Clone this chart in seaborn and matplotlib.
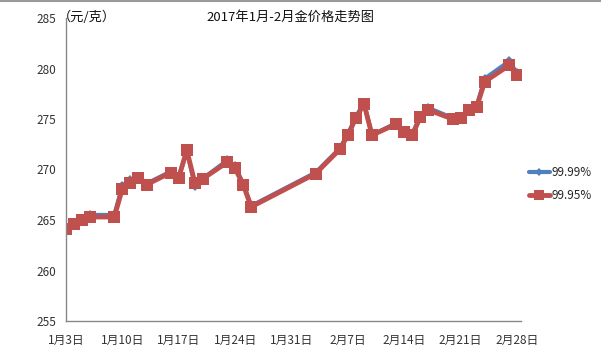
import matplotlib
matplotlib.use("Agg")
import matplotlib.pyplot as plt
import matplotlib.dates as mdates
from matplotlib.lines import Line2D
import seaborn as sns
import pandas as pd

dates = ["2017-01-03", "2017-01-04", "2017-01-05", "2017-01-06",
         "2017-01-09", "2017-01-10", "2017-01-11", "2017-01-12", "2017-01-13",
         "2017-01-16", "2017-01-17", "2017-01-18", "2017-01-19", "2017-01-20",
         "2017-01-23", "2017-01-24", "2017-01-25", "2017-01-26",
         "2017-02-03",
         "2017-02-06", "2017-02-07", "2017-02-08", "2017-02-09", "2017-02-10",
         "2017-02-13", "2017-02-14", "2017-02-15", "2017-02-16", "2017-02-17",
         "2017-02-20", "2017-02-21", "2017-02-22", "2017-02-23", "2017-02-24",
         "2017-02-27", "2017-02-28"]

au9995 = [264.1, 264.6, 265.0, 265.3, 265.3, 268.1, 268.7, 269.2, 268.5,
          269.7, 269.2, 271.9, 268.7, 269.1, 270.7, 270.1, 268.5, 266.3,
          269.6, 272.0, 273.4, 275.1, 276.5, 273.4, 274.5, 273.7, 273.4,
          275.2, 275.9, 275.0, 275.1, 275.9, 276.2, 278.7, 280.3, 279.4]

au9999 = [264.1, 264.7, 265.1, 265.5, 265.5, 268.4, 269.0, 269.3, 268.6,
          269.8, 269.3, 271.9, 268.4, 269.1, 270.9, 270.3, 268.6, 266.4,
          269.7, 272.1, 273.5, 275.2, 276.6, 273.4, 274.6, 273.8, 273.5,
          275.3, 276.1, 275.1, 275.2, 276.0, 276.3, 279.0, 280.7, 279.6]

tick_dates = ["2017-01-03", "2017-01-10", "2017-01-17", "2017-01-24", "2017-01-31",
              "2017-02-07", "2017-02-14", "2017-02-21", "2017-02-28"]
tick_labels = ["1月3日", "1月10日", "1月17日", "1月24日", "1月31日",
               "2月7日", "2月14日", "2月21日", "2月28日"]
y_ticks = [255, 260, 265, 270, 275, 280, 285]

title = "2017年1月-2月金价格走势图"
unit = "（元/克）"

sns.set_theme(style="white")
plt.rcParams["font.family"] = ["Noto Sans CJK SC", "DejaVu Sans"]

df = pd.DataFrame({"date": pd.to_datetime(dates), "9999": au9999, "9995": au9995})

fig = plt.figure(figsize=(6.01, 3.57), dpi=100)
ax = fig.add_axes([66 / 601, 1 - 321 / 357, (521 - 66) / 601, (321 - 18) / 357])

blue = "#4F81BD"
red = "#C0504D"

sns.lineplot(data=df, x="date", y="9999", ax=ax, color=blue, linewidth=3,
             marker="D", markersize=5, markeredgewidth=0, label="99.99%")
sns.lineplot(data=df, x="date", y="9995", ax=ax, color=red, linewidth=3.5,
             marker="s", markersize=9, markeredgewidth=0, label="99.95%")

start = pd.Timestamp("2017-01-03")
ax.set_xlim(mdates.date2num(start), mdates.date2num(start) + 56.5)
ax.set_ylim(255, 285)
ax.set_yticks(y_ticks)
ax.set_yticklabels([str(v) for v in y_ticks], fontsize=8.5, color="#333333")
ax.set_xticks(mdates.date2num(pd.to_datetime(tick_dates)))
ax.set_xticklabels(tick_labels, fontsize=8.5, color="#333333")
ax.set_xlabel("")
ax.set_ylabel("")

for s in ["top", "right"]:
    ax.spines[s].set_visible(False)
for s in ["left", "bottom"]:
    ax.spines[s].set_color("#888888")
    ax.spines[s].set_linewidth(1)
ax.tick_params(axis="both", which="major", direction="out", length=4,
               width=1, color="#888888")
ax.tick_params(axis="x", pad=5)
ax.tick_params(axis="y", pad=3)

fig.text(58 / 601, 1 - 17 / 357, unit, fontsize=9.5, va="center", ha="left", color="#111111")
fig.text(290 / 601, 1 - 17 / 357, title, fontsize=9.5, va="center", ha="center", color="#111111")

ax.legend(loc="center left", bbox_to_anchor=(518 / 601, 1 - 184 / 357),
          bbox_transform=fig.transFigure, frameon=False, fontsize=8.5,
          handlelength=1.8, handletextpad=0.15, labelspacing=0.9, markerscale=0.8)

fig.lines.append(Line2D([0, 1], [0.998, 0.998], transform=fig.transFigure,
                        color="#999999", linewidth=1.5))

fig.savefig("out.png", dpi=100)
